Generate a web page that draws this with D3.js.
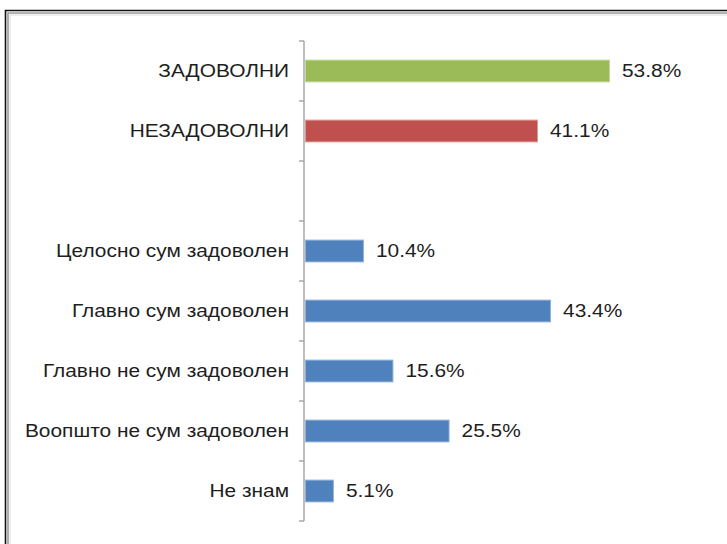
<!DOCTYPE html>
<html>
<head>
<meta charset="utf-8">
<script src="https://cdn.jsdelivr.net/npm/d3@7"></script>
<style>
  html, body { margin: 0; padding: 0; background: #fff; }
  svg { display: block; }
  text { font-family: "Liberation Sans", Arial, sans-serif; fill: #1e1e1e; }
</style>
</head>
<body>
<svg id="chart" width="727" height="544"></svg>
<script>
// Survey answers, top to bottom; the empty slot separates the summary from the detail rows
const categories = [
  "ЗАДОВОЛНИ",
  "НЕЗАДОВОЛНИ",
  "",
  "Целосно сум задоволен",
  "Главно сум задоволен",
  "Главно не сум задоволен",
  "Воопшто не сум задоволен",
  "Не знам"
];
const values = [53.8, 41.1, null, 10.4, 43.4, 15.6, 25.5, 5.1];
const groups = ["yes", "no", "gap", "detail", "detail", "detail", "detail", "detail"];

const palette = { yes: "#9BBB59", no: "#C0504D", detail: "#4F81BD" };
const edge = { yes: "#c4d89c", no: "#dd9896", detail: "#93b1d8" };

const svg = d3.select("#chart");
const W = 727, H = 544;

// double frame around the chart area
const frame = svg.append("g");
frame.append("path").attr("d", `M5.5,${H} V10.5 H${W}`)
  .attr("fill", "none").attr("stroke", "#111").attr("stroke-width", 1.6);
frame.append("path").attr("d", `M8,${H} V13 H${W}`)
  .attr("fill", "none").attr("stroke", "#9a9a9a").attr("stroke-width", 1.6);
frame.append("path").attr("d", `M10,${H} V15 H${W}`)
  .attr("fill", "none").attr("stroke", "#dcdcdc").attr("stroke-width", 1);

const x0 = 305, y0 = 41, y1 = 521;
const x = d3.scaleLinear().domain([0, 53.8]).range([x0, 610]);
const y = d3.scaleBand().domain(d3.range(categories.length)).range([y0, y1]).paddingInner(0.62).paddingOuter(0.31);

// category axis with tick marks between the bands
const axisG = svg.append("g");
axisG.append("line").attr("x1", x0 - 1).attr("x2", x0 - 1).attr("y1", y0).attr("y2", y1)
  .attr("stroke", "#9d9d9d").attr("stroke-width", 1.3);
const step = (y1 - y0) / categories.length;
axisG.selectAll("line.tick").data(d3.range(categories.length + 1)).join("line")
  .attr("class", "tick")
  .attr("x1", x0 - 6).attr("x2", x0 - 1)
  .attr("y1", i => y0 + i * step).attr("y2", i => y0 + i * step)
  .attr("stroke", "#9d9d9d").attr("stroke-width", 1.3);

const rows = d3.range(categories.length).filter(i => values[i] !== null);

svg.append("g").selectAll("rect").data(rows).join("rect")
  .attr("x", x0 + 0.5)
  .attr("y", i => y(i) + 0.5)
  .attr("width", i => x(values[i]) - x0 - 1)
  .attr("height", y.bandwidth() - 1)
  .attr("fill", i => palette[groups[i]])
  .attr("stroke", i => edge[groups[i]])
  .attr("stroke-width", 1);

// labels are set in a slightly wide face
const fs = 18.5, sx = 1.13;
const midY = i => y(i) + y.bandwidth() / 2;

// category labels
svg.append("g").selectAll("text").data(rows).join("text")
  .attr("transform", i => `translate(289,${midY(i)}) scale(${sx},1)`)
  .attr("dy", "0.35em")
  .attr("text-anchor", "end")
  .style("font-size", fs + "px")
  .text(i => categories[i]);

// value labels
svg.append("g").selectAll("text").data(rows).join("text")
  .attr("transform", i => `translate(${x(values[i]) + 12},${midY(i)}) scale(${sx},1)`)
  .attr("dy", "0.35em")
  .style("font-size", fs + "px")
  .text(i => values[i].toFixed(1) + "%");
</script>
</body>
</html>
